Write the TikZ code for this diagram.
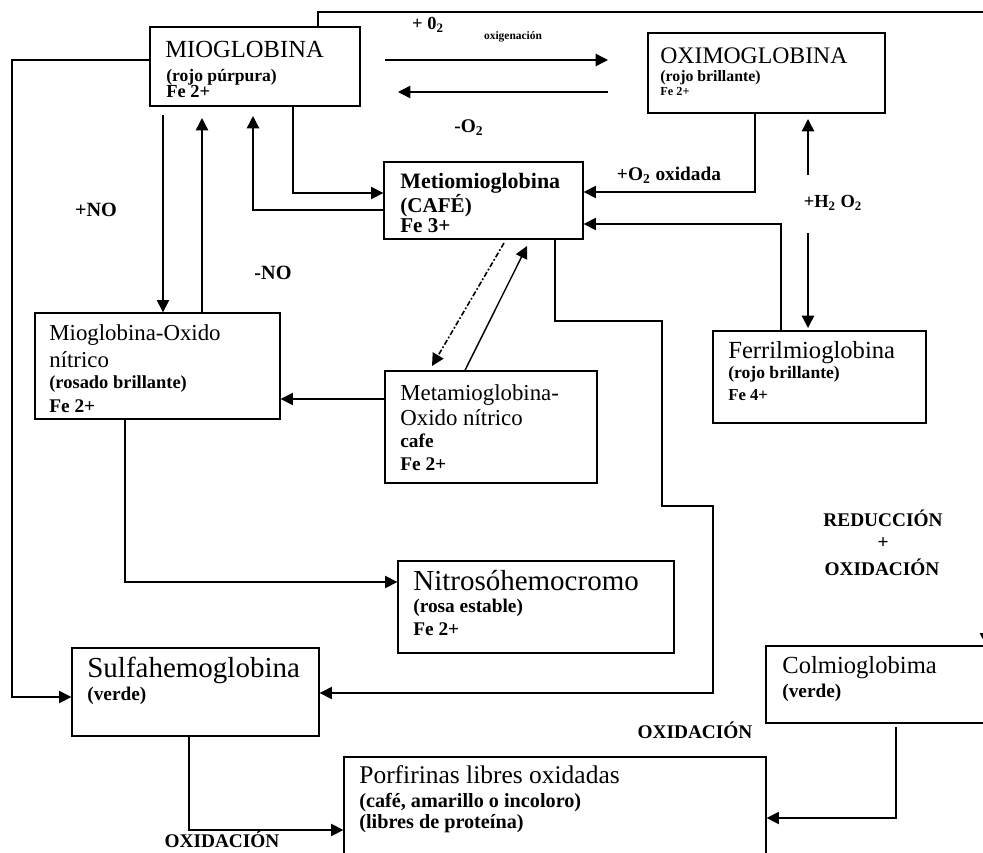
\documentclass[tikz,border=0pt]{standalone}
\usepackage{fontspec}
\setmainfont{Liberation Serif}
\usetikzlibrary{arrows.meta,calc}
\newcommand{\fsz}[1]{\fontsize{#1}{#1}\selectfont}
\newcommand{\Tline}[5]{\node[tline,font={#4}] (#1) at (#2,#3) {#5};}
\tikzset{
  box/.style={draw, line width=0.8pt, rectangle, inner sep=0pt},
  tline/.style={anchor=base west, inner sep=0pt},
  lab/.style={inner sep=0pt, font=\fsz{11}\bfseries},
  conn/.style={line width=0.8pt},
  arr/.style={conn, -{Triangle[length=7pt,width=7pt]}},
  dd/.style={arr, line width=0.9pt, dash pattern=on 3pt off 1.2pt on 1pt off 1.2pt},
}
\begin{document}
\begin{tikzpicture}[x=0.02cm,y=-0.02cm]
\useasboundingbox (0,0) rectangle (983,852);
\clip (0,0) rectangle (983,852);
% boxes
\node[box, minimum width=4.2cm,  minimum height=1.58cm] (mio)     at (255,66.5) {};
\node[box, minimum width=4.74cm, minimum height=1.6cm]  (oxi)     at (766.5,73) {};
\node[box, minimum width=3.98cm, minimum height=1.54cm] (metio)   at (483.5,200.5) {};
\node[box, minimum width=4.9cm,  minimum height=2.12cm] (mioox)   at (157.5,366) {};
\node[box, minimum width=4.24cm, minimum height=2.24cm] (metamio) at (491,427) {};
\node[box, minimum width=4.26cm, minimum height=1.84cm] (ferril)  at (819.5,377) {};
\node[box, minimum width=5.52cm, minimum height=1.84cm] (nitroso) at (536,607) {};
\node[box, minimum width=4.94cm, minimum height=1.76cm] (sulfa)   at (195.5,692) {};
\node[box, minimum width=4.88cm, minimum height=1.54cm] (colmio)  at (888,684.5) {};
\node[box, minimum width=8.44cm, minimum height=2.86cm] (porf)    at (555,828.5) {};
% texts
\Tline{mioA}{165}{57}{\fsz{14}}{MIOGLOBINA}
\Tline{mioB}{166}{81}{\fsz{10}\bfseries}{(rojo púrpura)}
\Tline{mioC}{166}{97}{\fsz{10.5}\bfseries}{Fe 2+}
\Tline{oxiA}{660}{63}{\fsz{13.5}}{OXIMOGLOBINA}
\Tline{oxiB}{660}{81}{\fsz{9}\bfseries}{(rojo brillante)}
\Tline{oxiC}{660}{95}{\fsz{7}\bfseries}{Fe 2+}
\Tline{metA}{400}{188}{\fsz{12.5}\bfseries}{Metiomioglobina}
\Tline{metB}{400}{212}{\fsz{12}\bfseries}{(CAFÉ)}
\Tline{metC}{400}{232}{\fsz{12}\bfseries}{Fe 3+}
\Tline{moxA}{49}{340}{\fsz{13}}{Mioglobina-Oxido}
\Tline{moxB}{49}{367}{\fsz{13}}{nítrico}
\Tline{moxC}{49}{388}{\fsz{10.5}\bfseries}{(rosado brillante)}
\Tline{moxD}{49}{412}{\fsz{11}\bfseries}{Fe 2+}
\Tline{mamA}{400}{400}{\fsz{13}}{Metamioglobina-}
\Tline{mamB}{400}{425}{\fsz{13}}{Oxido nítrico}
\Tline{mamC}{400}{447}{\fsz{11}\bfseries}{cafe}
\Tline{mamD}{400}{470}{\fsz{11}\bfseries}{Fe 2+}
\Tline{ferA}{728}{358}{\fsz{14}}{Ferrilmioglobina}
\Tline{ferB}{728}{378}{\fsz{10}\bfseries}{(rojo brillante)}
\Tline{ferC}{728}{400}{\fsz{9.5}\bfseries}{Fe 4+}
\Tline{nitA}{413}{590}{\fsz{16.5}}{Nitrosóhemocromo}
\Tline{nitB}{413}{612}{\fsz{11}\bfseries}{(rosa estable)}
\Tline{nitC}{413}{635}{\fsz{11}\bfseries}{Fe 2+}
\Tline{sulA}{87}{677}{\fsz{16.5}}{Sulfahemoglobina}
\Tline{sulB}{87}{700}{\fsz{11}\bfseries}{(verde)}
\Tline{colA}{782}{673}{\fsz{14}}{Colmioglobima}
\Tline{colB}{782}{697}{\fsz{11}\bfseries}{(verde)}
\Tline{porA}{359}{783}{\fsz{14.5}}{Porfirinas libres oxidadas}
\Tline{porB}{359}{807}{\fsz{11.5}\bfseries}{(café, amarillo o incoloro)}
\Tline{porC}{359}{828}{\fsz{11.5}\bfseries}{(libres de proteína)}
% labels
\node[lab, font=\fsz{10.5}\bfseries] (lO2) at (428,25) {+ 0\textsubscript{2}};
\node[lab, font=\fsz{6.5}\bfseries] (loxig) at (513,37) {oxigenación};
\node[lab] (lmO2) at (469,128) {-O\textsubscript{2}};
\node[lab] (lO2ox) at (669,175) {+O\textsubscript{2} oxidada};
\node[lab, font=\fsz{10.5}\bfseries] (lH2O2) at (833,203) {+H\textsubscript{2} O\textsubscript{2}};
\node[lab, font=\fsz{11.5}\bfseries] (lNO) at (96,210) {+NO};
\node[lab, font=\fsz{11.5}\bfseries] (lmNO) at (273,273) {-NO};
\node[lab] (lred) at (883,518) {REDUCCIÓN};
\node[lab] (lplus) at (883,543) {+};
\node[lab] (loxi1) at (882,567) {OXIDACIÓN};
\node[lab] (loxi2) at (695,730) {OXIDACIÓN};
\node[lab] (loxi3) at (222,839) {OXIDACIÓN};
% free-end coordinates
\coordinate (a1s) at (385,60);  \coordinate (a1e) at (608,60);
\coordinate (a2s) at (608,92);  \coordinate (a2e) at (398,92);
\coordinate (topr) at (986,12);
\coordinate (h1s) at (808,175); \coordinate (h1e) at (808,119);
\coordinate (h2s) at (808,233);
% connectors
\draw[arr] (318,0 |- mio.north) |- (topr) -- (986,0 |- colmio.north);
\draw[arr] (a1s) -- (a1e);
\draw[arr] (a2s) -- (a2e);
\draw[arr] (163,115) -- (163,0 |- mioox.north);
\draw[arr] (202,0 |- mioox.north) -- (202,118);
\draw[arr] (metio.west |- 0,210) -| (253,116);
\draw[arr] (293,0 |- mio.south) |- (metio.west |- 0,193);
\draw[arr] (mio.west |- 0,60) -| (12,697) -- (sulfa.west |- 0,697);
\draw[arr] (755,0 |- oxi.south) |- (metio.east |- 0,192);
\draw[arr] (h1s) -- (h1e);
\draw[arr] (h2s) -- (808,328);
\draw[arr] (781,0 |- ferril.north) |- (metio.east |- 0,224);
\draw[arr] (555,0 |- metio.south) -- (555,321) -- (662,321) -- (662,506) -- (713,506) -- (713,693) -- (sulfa.east |- 0,693);
\draw[dd] (504,243) -- (432,366);
\draw[arr] (465,0 |- metamio.north) -- (527,246);
\draw[arr] (metamio.west |- 0,399) -- (mioox.east |- 0,399);
\draw[arr] (125,0 |- mioox.south) |- (nitroso.west |- 0,582);
\draw[arr] (189,0 |- sulfa.south) |- (porf.west |- 0,830);
\draw[arr] (896,727) |- (porf.east |- 0,818);
\end{tikzpicture}
\end{document}
